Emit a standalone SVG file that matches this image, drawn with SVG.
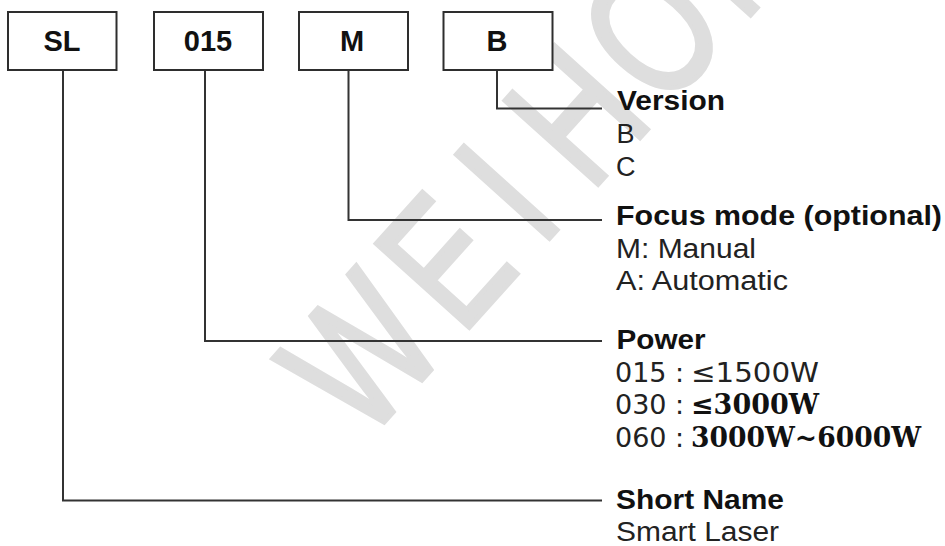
<svg xmlns="http://www.w3.org/2000/svg" width="945" height="546" viewBox="0 0 945 546">
  <style>
    .bg { fill: #ffffff; }
    .mark { font-family: "Liberation Sans", Arial, sans-serif; font-size: 182px; fill: #dedede; stroke: #dedede; stroke-width: 5; stroke-linejoin: miter; }
    .box { fill: #ffffff; stroke: #2e2e2e; stroke-width: 2; }
    .code { font-family: "Liberation Sans", Arial, sans-serif; font-weight: bold; font-size: 29px; fill: #111111; text-anchor: middle; }
    .wire { fill: none; stroke: #333333; stroke-width: 2; }
    .head { font-family: "Liberation Sans", Arial, sans-serif; font-weight: bold; font-size: 27px; fill: #111111; }
    .item { font-family: "Liberation Sans", Arial, sans-serif; font-size: 27px; fill: #222222; }
    .num { font-family: "DejaVu Sans", "Liberation Sans", sans-serif; font-size: 27px; fill: #222222; }
    .hi { font-family: "DejaVu Serif", "Liberation Serif", serif; font-weight: bold; font-size: 27px; fill: #111111; }
  </style>

  <rect class="bg" x="0" y="0" width="945" height="546"/>

  <!-- diagonal watermark -->
  <g id="watermark" transform="translate(422,380) rotate(-48) scale(0.74,1)">
    <text class="mark" x="-115 80 240 340 488 648 800" y="0">WEIHONG</text>
  </g>

  <!-- leader lines from each code field to its legend -->
  <g id="connectors">
    <path class="wire" d="M497,70 V108.5 H602"/>
    <path class="wire" d="M348.5,70 V220 H602"/>
    <path class="wire" d="M205,70 V341 H602"/>
    <path class="wire" d="M63,70 V500.5 H602"/>
  </g>

  <!-- code fields -->
  <g id="field-sl">
    <rect class="box" x="8" y="12" width="108.5" height="58"/>
    <text class="code" x="62" y="50.5">SL</text>
  </g>
  <g id="field-015">
    <rect class="box" x="154" y="12" width="109" height="58"/>
    <text class="code" x="208" y="50.5">015</text>
  </g>
  <g id="field-m">
    <rect class="box" x="299" y="12" width="109" height="58"/>
    <text class="code" x="352" y="50.5">M</text>
  </g>
  <g id="field-b">
    <rect class="box" x="443.5" y="12" width="109" height="58"/>
    <text class="code" x="497" y="50.5">B</text>
  </g>

  <!-- legends -->
  <g id="legend-version">
    <text class="head" x="617" y="109.5" textLength="108" lengthAdjust="spacingAndGlyphs">Version</text>
    <text class="item" x="616.5" y="143">B</text>
    <text class="item" x="616" y="176">C</text>
  </g>
  <g id="legend-focus">
    <text class="head" x="616" y="224.5" textLength="326" lengthAdjust="spacingAndGlyphs">Focus mode (optional)</text>
    <text class="item" x="616" y="257.5" textLength="140" lengthAdjust="spacingAndGlyphs">M: Manual</text>
    <text class="item" x="616" y="289.5" textLength="172" lengthAdjust="spacingAndGlyphs">A: Automatic</text>
  </g>
  <g id="legend-power">
    <text class="head" x="616.5" y="348.5" textLength="89" lengthAdjust="spacingAndGlyphs">Power</text>
    <text class="num" x="615" y="381.5">015 :</text>
    <text class="num" x="691" y="381.5" textLength="128" lengthAdjust="spacingAndGlyphs">≤1500W</text>
    <text class="num" x="615" y="414">030 :</text>
    <text class="hi" x="691" y="414" textLength="128" lengthAdjust="spacingAndGlyphs">≤3000W</text>
    <text class="num" x="615" y="446.5">060 :</text>
    <text class="hi" x="691" y="446.5" textLength="230" lengthAdjust="spacingAndGlyphs">3000W~6000W</text>
  </g>
  <g id="legend-short-name">
    <text class="head" x="616" y="509" textLength="168" lengthAdjust="spacingAndGlyphs">Short Name</text>
    <text class="item" x="616" y="540.5" textLength="163" lengthAdjust="spacingAndGlyphs">Smart Laser</text>
  </g>
</svg>
